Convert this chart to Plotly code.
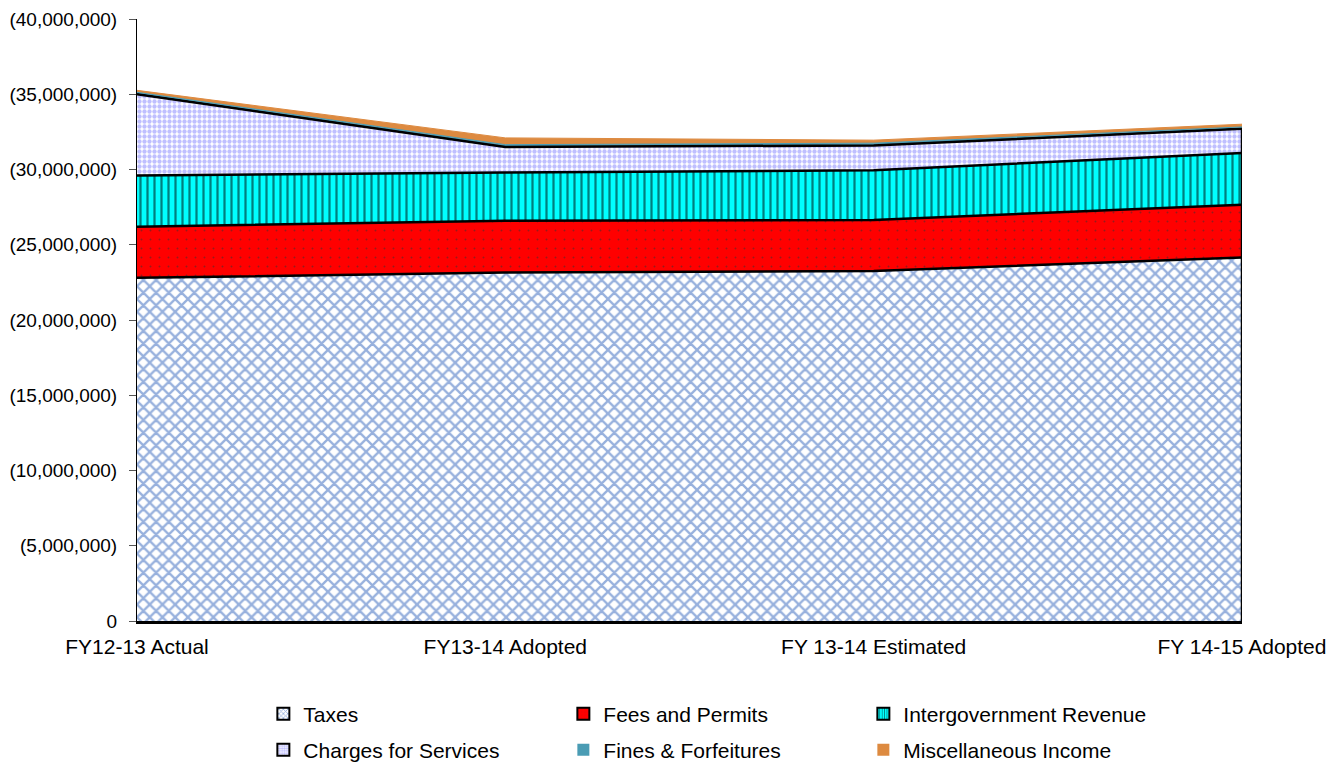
import plotly.graph_objects as go

categories = ["FY12-13 Actual", "FY13-14 Adopted", "FY 13-14 Estimated", "FY 14-15 Adopted"]
taxes = [22800000, 23150000, 23250000, 24150000]
fees_permits = [3400000, 3450000, 3400000, 3500000]
intergov_revenue = [3400000, 3200000, 3300000, 3450000]
charges_services = [5400000, 1700000, 1650000, 1600000]
fines_forfeitures = [130000, 150000, 150000, 130000]
misc_income = [130000, 450000, 200000, 180000]

y_tick_values = [0, 5000000, 10000000, 15000000, 20000000, 25000000, 30000000, 35000000, 40000000]
y_tick_labels = ["0", "(5,000,000)", "(10,000,000)", "(15,000,000)", "(20,000,000)",
                 "(25,000,000)", "(30,000,000)", "(35,000,000)", "(40,000,000)"]

patterns = [
    dict(shape="x", fgcolor="#2f62bb", bgcolor="white", size=9, solidity=0.45),
    dict(shape=".", fgcolor="#333333", bgcolor="#ff0000", size=9, solidity=0.04),
    dict(shape="|", fgcolor="black", bgcolor="#00ffff", size=7, solidity=0.32),
    dict(shape=".", fgcolor="#8080ff", bgcolor="white", size=5, solidity=0.6),
    None,
    None,
]
names = ["Taxes", "Fees and Permits", "Intergovernment Revenue",
         "Charges for Services", "Fines & Forfeitures", "Miscellaneous Income"]
values = [taxes, fees_permits, intergov_revenue, charges_services, fines_forfeitures, misc_income]
fill_colors = ["white", "#ff0000", "#00ffff", "white", "#4a9cb4", "#dd8a40"]
line_colors = ["black", "black", "black", "black", "#4a9cb4", "#dd8a40"]
line_widths = [2.5, 2.5, 2.5, 2.5, 1, 1]
legend_ids = ["legend", "legend", "legend", "legend2", "legend2", "legend2"]

fig = go.Figure()
for name, vals, pat, fc, lc, lw in zip(names, values, patterns, fill_colors, line_colors, line_widths):
    kw = dict(fillpattern=pat) if pat else {}
    fig.add_trace(go.Scatter(
        x=categories, y=vals, name=name, mode="lines",
        stackgroup="one", fillcolor=fc, showlegend=False,
        line=dict(color=lc, width=lw, shape="linear"),
        **kw,
    ))

# legend entries as square swatches
for name, pat, fc, lc, lg in zip(names, patterns, fill_colors, line_colors, legend_ids):
    mk = dict(color=fc, line=dict(color="black" if pat else fc, width=2 if pat else 0))
    if pat:
        p = dict(pat)
        p["size"] = max(3, p["size"] // 2)
        mk["pattern"] = p
    fig.add_trace(go.Bar(x=[None], y=[None], name=name, marker=mk,
                         showlegend=True, legend=lg, hoverinfo="skip"))

# right edge outline of the stacked block
edge_top = taxes[-1] + fees_permits[-1] + intergov_revenue[-1] + charges_services[-1]
fig.add_shape(type="line", xref="x", yref="y", x0=categories[-1], x1=categories[-1],
              y0=0, y1=edge_top, line=dict(color="black", width=2.5))

legend_common = dict(
    orientation="h", xref="container", yref="container", xanchor="left", yanchor="middle",
    entrywidth=255, entrywidthmode="pixels", traceorder="normal",
    font=dict(size=21, color="black"), itemwidth=30, bgcolor="rgba(0,0,0,0)",
)

fig.update_layout(
    width=1344, height=765,
    margin=dict(l=129, r=110, t=11, b=152),
    plot_bgcolor="white", paper_bgcolor="white",
    font=dict(family="Liberation Sans, Arial", size=20, color="black"),
    showlegend=True,
    barmode="overlay",
    legend=dict(x=0.190, y=(765 - 706) / 765, **legend_common),
    legend2=dict(x=0.190, y=(765 - 742) / 765, **legend_common),
    xaxis=dict(
        type="category", range=[0, 3], showline=True, linecolor="black", linewidth=2.5,
        showgrid=False, ticks="", tickfont=dict(size=21), zeroline=False,
        ticklabelstandoff=5, automargin=False,
    ),
    yaxis=dict(
        range=[0, 40000000], tickvals=y_tick_values, ticktext=y_tick_labels,
        showline=True, linecolor="black", linewidth=1, ticks="outside", ticklen=7,
        tickcolor="#555555", showgrid=False, zeroline=False, tickfont=dict(size=19),
        ticklabelstandoff=8, automargin=False,
    ),
)

fig.write_html("out.html")
